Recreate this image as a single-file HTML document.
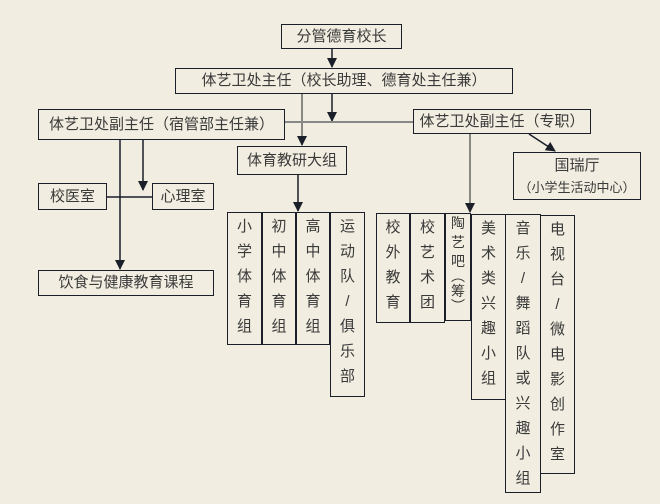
<!DOCTYPE html>
<html><head><meta charset="utf-8"><style>
body{margin:0;width:660px;height:504px;background:#f1ede0;position:relative;overflow:hidden;font-family:"Liberation Sans","Noto Sans CJK SC",sans-serif;color:#3a3a3a;}
.b{position:absolute;border:1.5px solid #1a1f2a;box-sizing:border-box;font-size:15px;text-align:center;white-space:nowrap;}
.v{position:absolute;border:1.5px solid #1a1f2a;box-sizing:border-box;font-size:15px;text-align:center;line-height:25px;padding-top:0px;}
svg{position:absolute;left:0;top:0;}
</style></head><body>
<svg width="660" height="504">
<defs>
<marker id="r" markerWidth="10" markerHeight="10" refX="9" refY="5" orient="auto" markerUnits="userSpaceOnUse"><path d="M0,0 L10,5 L0,10 z" fill="#1a1f2a"/></marker></defs>
<g stroke="#1a1f2a" stroke-width="1.5" fill="none">
<line x1="332" y1="49" x2="332" y2="67" marker-end="url(#r)"/>
<line x1="332" y1="94" x2="332" y2="121" marker-end="url(#r)"/>
<line x1="302" y1="94" x2="302" y2="145" stroke="#666" marker-end="url(#r)"/>
<line x1="285" y1="122" x2="413" y2="122" stroke="#888" stroke-width="2"/>
<line x1="529" y1="134" x2="555" y2="151" marker-end="url(#r)"/>
<line x1="470" y1="134" x2="470" y2="212" stroke="#666" marker-end="url(#r)"/>
<line x1="298" y1="175" x2="298" y2="211" marker-end="url(#r)"/>
<line x1="120" y1="140" x2="120" y2="269" marker-end="url(#r)"/>
<line x1="143" y1="140" x2="143" y2="190" marker-end="url(#r)"/>
<line x1="107" y1="197" x2="152" y2="197"/>
</g></svg>
<div class="b" style="left:281px;top:24px;width:121px;height:25px;line-height:23px;">分管德育校长</div>
<div class="b" style="left:175px;top:68px;width:338px;height:26px;line-height:24px;">体艺卫处主任（校长助理、德育处主任兼）</div>
<div class="b" style="left:38px;top:109px;width:247px;height:31px;line-height:29px;">体艺卫处副主任（宿管部主任兼）</div>
<div class="b" style="left:413px;top:109px;width:178px;height:25px;line-height:23px;">体艺卫处副主任（专职）</div>
<div class="b" style="left:237px;top:146px;width:110px;height:29px;line-height:27px;">体育教研大组</div>
<div class="b" style="left:513px;top:152px;width:128px;height:48px;line-height:22px;padding-top:2px;">国瑞厅<br><span style="font-size:13px">（小学生活动中心）</span></div>
<div class="b" style="left:38px;top:183px;width:69px;height:27px;line-height:25px;">校医室</div>
<div class="b" style="left:152px;top:183px;width:62px;height:27px;line-height:25px;">心理室</div>
<div class="b" style="left:38px;top:270px;width:176px;height:26px;line-height:24px;">饮食与健康教育课程</div>

<div class="v" style="left:227px;top:212px;width:35px;height:133px;padding-top:1px;">小<br>学<br>体<br>育<br>组</div>
<div class="v" style="left:262px;top:212px;width:34px;height:133px;padding-top:1px;">初<br>中<br>体<br>育<br>组</div>
<div class="v" style="left:296px;top:212px;width:34px;height:133px;padding-top:1px;">高<br>中<br>体<br>育<br>组</div>
<div class="v" style="left:330px;top:212px;width:35px;height:185px;padding-top:1px;">运<br>动<br>队<br>/<br>俱<br>乐<br>部</div>
<div class="v" style="left:376px;top:213px;width:34px;height:110px;padding-top:1px;">校<br>外<br>教<br>育</div>
<div class="v" style="left:410px;top:213px;width:35px;height:110px;padding-top:1px;">校<br>艺<br>术<br>团</div>
<div class="v" style="left:445px;top:213px;width:26px;height:108px;line-height:19px;font-size:14px;overflow:hidden;">陶<br>艺<br>吧<br><span style="display:block;height:11px;line-height:11px;">︵</span>筹<br><span style="display:block;height:11px;line-height:11px;">︶</span></div>
<div class="v" style="left:471px;top:214px;width:35px;height:186px;padding-top:1px;">美<br>术<br>类<br>兴<br>趣<br>小<br>组</div>
<div class="v" style="left:505px;top:214px;width:36px;height:279px;padding-top:1px;">音<br>乐<br>/<br>舞<br>蹈<br>队<br>或<br>兴<br>趣<br>小<br>组</div>
<div class="v" style="left:540px;top:215px;width:35px;height:259px;padding-top:1px;">电<br>视<br>台<br>/<br>微<br>电<br>影<br>创<br>作<br>室</div>
</body></html>
